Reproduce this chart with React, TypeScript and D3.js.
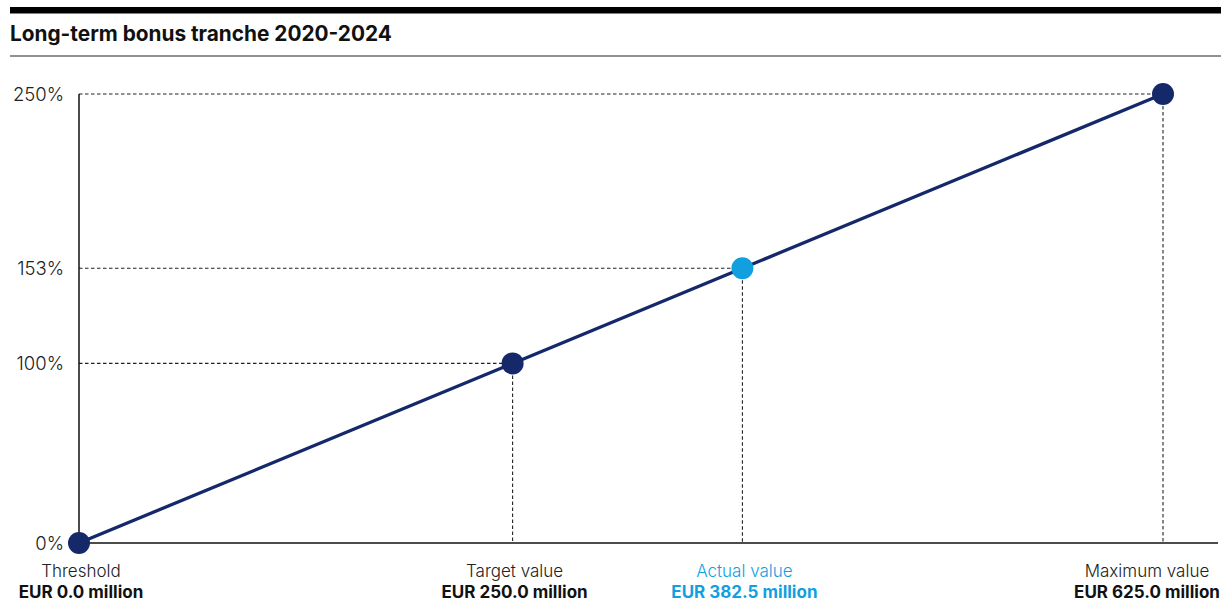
import React from "react";
import * as d3 from "d3";

const title = "Long-term bonus tranche 2020-2024";
const pointNames = ["Threshold", "Target value", "Actual value", "Maximum value"];
const pointValues = [0, 250.0, 382.5, 625.0]; // EUR million
const bonusPct = [0, 100, 153, 250];
const highlight = [false, false, true, false];
const yTicks = [0, 100, 153, 250];

const W = 1221;
const H = 606;
const NAVY = "#15296a";
const BLUE = "#129fe0";
const FONT = "Inter, 'Noto Sans', sans-serif";

export default function App() {
  const x = d3.scaleLinear().domain([0, 625]).range([79, 1163]);
  const y = d3.scaleLinear().domain([0, 250]).range([543, 94]);
  const line = d3
    .line<number>()
    .x((_, i) => x(pointValues[i]))
    .y((d) => y(d));

  const fmt = (v: number) => `EUR ${v.toFixed(1)} million`;

  return (
    <svg
      width={W}
      height={H}
      style={{ position: "absolute", left: 0, top: 0, background: "#fff" }}
      fontFamily={FONT}
    >
      <rect x={10} y={7} width={W - 10} height={6.5} fill="#000" />
      <text x={10} y={41} fontSize={20.8} fontWeight={700} fill="#111">
        {title}
      </text>
      <line x1={10} x2={W} y1={56} y2={56} stroke="#6e6e6e" strokeWidth={1.3} />

      {/* dashed guides */}
      {bonusPct.map((p, i) =>
        i === 0 ? null : (
          <g key={"g" + i} stroke="#222" strokeWidth={1.1} strokeDasharray="3.5,2.5" fill="none">
            <line x1={x(0)} x2={x(pointValues[i])} y1={y(p)} y2={y(p)} />
            <line x1={x(pointValues[i])} x2={x(pointValues[i])} y1={y(p)} y2={y(0)} />
          </g>
        )
      )}

      {/* axes */}
      <line x1={x(0)} x2={x(0)} y1={y(250)} y2={y(0)} stroke="#111" strokeWidth={1.5} />
      <line x1={x(0)} x2={1218} y1={y(0)} y2={y(0)} stroke="#111" strokeWidth={1.5} />

      {/* y tick labels */}
      {yTicks.map((t) => (
        <text
          key={"t" + t}
          x={64}
          y={y(t)}
          dy="0.36em"
          textAnchor="end"
          fontSize={18.5}
          fontWeight={300}
          fill="#222"
        >
          {`${t}%`}
        </text>
      ))}

      <path d={line(bonusPct) || ""} fill="none" stroke={NAVY} strokeWidth={3.3} />

      {bonusPct.map((p, i) => (
        <circle
          key={"c" + i}
          cx={x(pointValues[i])}
          cy={y(p)}
          r={11}
          fill={highlight[i] ? BLUE : NAVY}
        />
      ))}

      {/* x labels */}
      {pointValues.map((v, i) => {
        const cx = i === pointValues.length - 1 ? x(v) - 16 : x(v) + 2;
        const col = highlight[i] ? BLUE : undefined;
        return (
          <g key={"l" + i}>
            <text
              x={cx}
              y={577}
              textAnchor="middle"
              fontSize={17}
              fontWeight={300}
              fill={col || "#222"}
            >
              {pointNames[i]}
            </text>
            <text
              x={cx}
              y={598}
              textAnchor="middle"
              fontSize={17}
              fontWeight={700}
              fill={col || "#111"}
            >
              {fmt(v)}
            </text>
          </g>
        );
      })}
    </svg>
  );
}
